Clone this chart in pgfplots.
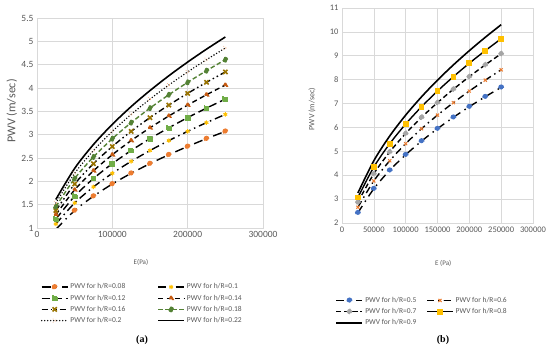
\documentclass[border=0pt]{standalone}
\usepackage{pgfplots}
\pgfplotsset{compat=1.18}
\usepackage{fontspec}
\setmainfont{Carlito}
\newfontfamily\capfont{Liberation Serif}
\usetikzlibrary{plotmarks}

\definecolor{xlorange}{RGB}{237,125,49}
\definecolor{xlyellow}{RGB}{255,192,0}
\definecolor{xlgreen}{RGB}{112,173,71}
\definecolor{xlbrown}{RGB}{197,90,17}
\definecolor{xlgold}{RGB}{153,115,0}
\definecolor{xldkgreen}{RGB}{84,130,53}
\definecolor{xlpeach}{RGB}{244,177,131}
\definecolor{xlblue}{RGB}{68,114,196}
\definecolor{xlgray}{RGB}{165,165,165}
\definecolor{txtgray}{RGB}{89,89,89}
\definecolor{gridgray}{RGB}{217,217,217}

% PWV (m/s) against E (Pa), one table per h/R
\pgfplotstableread{
E hra hrb hrc hrd hre hrf hrg hrh
25000  0.971 1.086 1.190 1.285 1.374 1.457 1.536 1.611
50000  1.374 1.536 1.682 1.817 1.943 2.060 2.172 2.278
75000  1.682 1.881 2.060 2.226 2.379 2.523 2.660 2.790
100000 1.943 2.172 2.379 2.570 2.747 2.914 3.071 3.221
125000 2.172 2.428 2.660 2.873 3.071 3.258 3.434 3.602
150000 2.379 2.660 2.914 3.147 3.365 3.569 3.762 3.945
175000 2.570 2.873 3.147 3.400 3.634 3.855 4.063 4.262
200000 2.747 3.071 3.365 3.634 3.885 4.121 4.344 4.556
225000 2.914 3.258 3.569 3.855 4.121 4.371 4.607 4.832
250000 3.071 3.434 3.762 4.063 4.344 4.607 4.857 5.093
}\tablea

\pgfplotstableread{
E hra hrb hrc hrd hre
25000  2.428 2.660 2.873 3.071 3.258
50000  3.434 3.762 4.063 4.344 4.607
75000  4.206 4.607 4.976 5.320 5.643
100000 4.856 5.320 5.746 6.143 6.516
125000 5.430 5.948 6.424 6.868 7.285
150000 5.948 6.516 7.038 7.524 7.980
175000 6.424 7.038 7.601 8.126 8.619
200000 6.868 7.524 8.126 8.688 9.214
225000 7.285 7.980 8.619 9.214 9.773
250000 7.679 8.412 9.086 9.713 10.302
}\tableb

\pgfplotsset{
  xlstyle/.style={
    scale only axis,
    grid=major,
    grid style={gridgray, line width=0.6pt},
    axis line style={gridgray},
    major tick length=0pt,
    tick label style={txtgray},
    label style={txtgray},
    scaled x ticks=false,
    xticklabel style={/pgf/number format/fixed, /pgf/number format/1000 sep={}},
    /pgf/number format/assume math mode=true,
    legend cell align=left,
    legend style={draw=none, text=txtgray, font=\fontsize{7.5}{9}\selectfont,
      row sep=0.5pt},
    legend image code/.code={
      \draw[mark repeat=2,mark phase=2,#1] plot coordinates {(0pt,0pt)(13pt,0pt)(26pt,0pt)};
    },
  },
  trend/.style={black, line width=1.4pt, smooth, mark size=2.2pt, mark options={solid}},
}

\begin{document}
\begin{tikzpicture}
\path[use as bounding box, fill=white] (0pt,0pt) rectangle (550pt,-358pt);

% ---------- (a) ----------
\begin{axis}[xlstyle,
  at={(37pt,-228pt)}, anchor=south west,
  width=226pt, height=210pt,
  xmin=0, xmax=300000, ymin=1, ymax=5.5,
  xtick={0,100000,200000,300000},
  ytick={1,1.5,...,5.5},
  tick label style={font=\fontsize{9.5}{10}\selectfont},
  xlabel={E(Pa)},
  xlabel style={font=\fontsize{7}{8}\selectfont, at={(axis description cs:0.46,0)}, anchor=center, yshift=-34pt},
  ylabel={PWV (m/sec)},
  ylabel style={font=\fontsize{12}{13}\selectfont, at={(axis description cs:-0.111,0.557)}, anchor=center},
  legend columns=2,
  legend style={at={(0.466,-0.245)}, anchor=north, /tikz/every even column/.append style={column sep=30pt}},
]
\addplot[trend, dash pattern=on 9pt off 5pt on 1.5pt off 5pt, mark=*, mark options={fill=xlorange, draw=xlorange}] table[x=E, y=hra] {\tablea};
\addlegendentry{PWV for h/R=0.08}
\addplot[trend, dash pattern=on 8pt off 4pt on 1.5pt off 4pt, mark=asterisk, mark options={draw=xlyellow, line width=1pt}] table[x=E, y=hrb] {\tablea};
\addlegendentry{PWV for h/R=0.1}
\addplot[trend, dash pattern=on 8pt off 4pt, mark=square*, mark options={fill=xlgreen, draw=xlgreen}] table[x=E, y=hrc] {\tablea};
\addlegendentry{PWV for h/R=0.12}
\addplot[trend, dash pattern=on 5pt off 3.5pt, mark=triangle*, mark options={fill=xlbrown, draw=xlbrown}] table[x=E, y=hrd] {\tablea};
\addlegendentry{PWV for h/R=0.14}
\addplot[trend, dash pattern=on 6pt off 3pt on 1.5pt off 3pt on 1.5pt off 3pt, mark=x, mark size=3pt, mark options={draw=xlgold, line width=1.6pt}] table[x=E, y=hre] {\tablea};
\addlegendentry{PWV for h/R=0.16}
\addplot[trend, xldkgreen, dash pattern=on 4.5pt off 2.5pt, mark=*, mark options={fill=xldkgreen, draw=xldkgreen}] table[x=E, y=hrf] {\tablea};
\addlegendentry{PWV for h/R=0.18}
\addplot[trend, line cap=round, dash pattern=on 0pt off 3pt, line width=1.6pt, mark=x, mark options={draw=xlpeach, line width=1pt}] table[x=E, y=hrg] {\tablea};
\addlegendentry{PWV for h/R=0.2}
\addplot[trend, solid, no markers, line width=1.6pt] table[x=E, y=hrh] {\tablea};
\addlegendentry{PWV for h/R=0.22}
\end{axis}

% ---------- (b) ----------
\begin{axis}[xlstyle,
  at={(342pt,-223pt)}, anchor=south west,
  width=191pt, height=215pt,
  xmin=0, xmax=300000, ymin=2, ymax=11,
  xtick={0,50000,...,300000},
  ytick={2,3,...,11},
  tick label style={font=\fontsize{8.5}{9}\selectfont},
  xlabel={E (Pa)},
  xlabel style={font=\fontsize{7}{8}\selectfont, at={(axis description cs:0.53,0)}, anchor=center, yshift=-40pt},
  ylabel={PWV (m/sec)},
  ylabel style={font=\fontsize{8}{9}\selectfont, at={(axis description cs:-0.157,0.53)}, anchor=center},
  legend columns=2,
  legend style={at={(0.42,-0.325)}, anchor=north, /tikz/every even column/.append style={column sep=8pt}},
]
\addplot[trend, dash pattern=on 8pt off 5pt on 1.5pt off 5pt, mark=*, mark options={fill=xlblue, draw=xlblue}] table[x=E, y=hra] {\tableb};
\addlegendentry{PWV for h/R=0.5}
\addplot[trend, dash pattern=on 7pt off 4pt on 1.5pt off 4pt, mark=x, mark options={draw=xlorange, line width=1pt}] table[x=E, y=hrb] {\tableb};
\addlegendentry{PWV for h/R=0.6}
\addplot[trend, dash pattern=on 5pt off 3pt, mark=diamond*, mark size=2.8pt, mark options={fill=xlgray, draw=xlgray}] table[x=E, y=hrc] {\tableb};
\addlegendentry{PWV for h/R=0.7}
\addplot[trend, solid, mark=square*, mark options={fill=xlyellow, draw=xlyellow}] table[x=E, y=hrd] {\tableb};
\addlegendentry{PWV for h/R=0.8}
\addplot[trend, solid, no markers, line width=1.6pt] table[x=E, y=hre] {\tableb};
\addlegendentry{PWV for h/R=0.9}
\end{axis}

\node[font=\capfont\bfseries\fontsize{10}{11}\selectfont] at (142pt,-340pt) {(a)};
\node[font=\capfont\bfseries\fontsize{10}{11}\selectfont] at (443pt,-340pt) {(b)};
\end{tikzpicture}
\end{document}
